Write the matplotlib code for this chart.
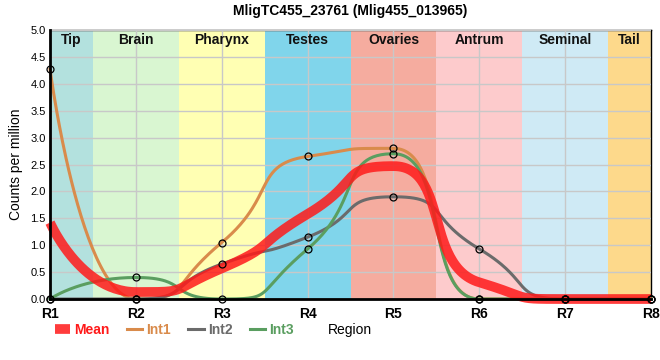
import matplotlib
matplotlib.use("Agg")
import matplotlib.pyplot as plt
from matplotlib.lines import Line2D
import numpy as np

plt.rcParams['font.family'] = ['Liberation Sans', 'DejaVu Sans']

# data
regions = ['R1', 'R2', 'R3', 'R4', 'R5', 'R6', 'R7', 'R8']
int1 = [4.27, 0.0, 1.05, 2.65, 2.80, 0.0, 0.0, 0.0]
int2 = [0.0, 0.0, 0.65, 1.15, 1.90, 0.93, 0.0, 0.0]
int3 = [0.0, 0.40, 0.0, 0.93, 2.70, 0.0, 0.0, 0.0]
mean = [1.42, 0.13, 0.57, 1.58, 2.47, 0.31, 0.0, 0.0]

tissues = ['Tip', 'Brain', 'Pharynx', 'Testes', 'Ovaries', 'Antrum', 'Seminal', 'Tail']
tissue_edges = [1, 1.5, 2.5, 3.5, 4.5, 5.5, 6.5, 7.5, 8]
tissue_colors = ['#b3e1de', '#d9f6d1', '#ffffb3', '#80d5eb', '#f5ac9f',
                 '#fdcbcc', '#cfeaf5', '#fdd98b']


def spline(x, y, n=60, smoothing=0.55):
    # bezier spline with clamped control points (no false extremes)
    x = [float(v) for v in x]
    y = [float(v) for v in y]
    m = len(x)
    lc = [(x[i], y[i]) for i in range(m)]
    rc = [(x[i], y[i]) for i in range(m)]
    d = smoothing + 1
    for i in range(1, m - 1):
        lx = (smoothing * x[i] + x[i - 1]) / d
        ly = (smoothing * y[i] + y[i - 1]) / d
        rx = (smoothing * x[i] + x[i + 1]) / d
        ry = (smoothing * y[i] + y[i + 1]) / d
        corr = (ry - ly) * (rx - x[i]) / (rx - lx) + y[i] - ry
        ly += corr
        ry += corr
        if ly > y[i - 1] and ly > y[i]:
            ly = max(y[i - 1], y[i]); ry = 2 * y[i] - ly
        elif ly < y[i - 1] and ly < y[i]:
            ly = min(y[i - 1], y[i]); ry = 2 * y[i] - ly
        if ry > y[i + 1] and ry > y[i]:
            ry = max(y[i + 1], y[i]); ly = 2 * y[i] - ry
        elif ry < y[i + 1] and ry < y[i]:
            ry = min(y[i + 1], y[i]); ly = 2 * y[i] - ry
        lc[i] = (lx, ly)
        rc[i] = (rx, ry)
    u = np.linspace(0, 1, n)
    b0, b1, b2, b3 = (1 - u) ** 3, 3 * (1 - u) ** 2 * u, 3 * (1 - u) * u ** 2, u ** 3
    xs, ys = [], []
    for i in range(m - 1):
        xs.append(b0 * x[i] + b1 * rc[i][0] + b2 * lc[i + 1][0] + b3 * x[i + 1])
        ys.append(b0 * y[i] + b1 * rc[i][1] + b2 * lc[i + 1][1] + b3 * y[i + 1])
    return np.concatenate(xs), np.concatenate(ys)


xpos = np.arange(1, len(regions) + 1)

fig = plt.figure(figsize=(6.6, 3.6), dpi=100)
ax = fig.add_axes([0.0758, 0.1694, 0.9106, 0.7473])

for i, name in enumerate(tissues):
    ax.axvspan(tissue_edges[i], tissue_edges[i + 1], color=tissue_colors[i], lw=0, zorder=0)
    ax.text((tissue_edges[i] + tissue_edges[i + 1]) / 2, 4.82, name, ha='center', va='center',
            fontsize=10, fontweight='bold', color='#111111', zorder=5)

ax.grid(True, color='#c8c8c8', lw=1, zorder=1)
ax.set_axisbelow(False)

series = [('Int1', int1, '#d98b4b'), ('Int2', int2, '#6b6b6b'), ('Int3', int3, '#5a9e60')]
for name, vals, col in series:
    sx, sy = spline(xpos, vals)
    ax.plot(sx, sy, color=col, lw=2.2, zorder=3, clip_on=False)

mx, my = spline(xpos, mean)
ax.plot(mx, my, color='#ff1a1a', lw=7, alpha=0.85, zorder=4, solid_capstyle='butt', clip_on=False)

for name, vals, col in series:
    ax.plot(xpos, vals, 'o', ms=5, mfc='none', mec='black', mew=0.9, zorder=6, clip_on=False)

ax.set_xlim(1, 8)
ax.set_ylim(0, 5)
ax.set_xticks(xpos)
ax.set_xticklabels(regions, fontsize=10, fontweight='bold')
ax.set_yticks(np.arange(0, 5.01, 0.5))
ax.set_yticklabels([f'{v:.1f}' for v in np.arange(0, 5.01, 0.5)], fontsize=8)
ax.tick_params(axis='x', length=0, pad=6)
ax.tick_params(axis='y', length=0, pad=3)
for side in ['left', 'bottom']:
    ax.spines[side].set_linewidth(2)
    ax.spines[side].set_zorder(7)
for side in ['top', 'right']:
    ax.spines[side].set_linewidth(1)
ax.set_ylabel('Counts per million', fontsize=10)
ax.yaxis.set_label_coords(-0.045, 0.5)

ax.set_title('MligTC455_23761 (Mlig455_013965)', fontsize=10, fontweight='bold', pad=11)

handles = [Line2D([], [], color='#ff1a1a', lw=7, alpha=0.85, solid_capstyle='butt')]
handles += [Line2D([], [], color=c, lw=2.2) for _, _, c in series]
labels = ['Mean'] + [n for n, _, _ in series]
leg = ax.legend(handles, labels, loc='center left', bbox_to_anchor=(0.008, -0.115), ncol=4,
                frameon=False, handlelength=1.1, handletextpad=0.3, columnspacing=1.25,
                prop={'size': 10, 'weight': 'bold'}, borderaxespad=0, borderpad=0)
for txt, h in zip(leg.get_texts(), handles):
    txt.set_color(h.get_color())
fig.text(0.53, 0.083, 'Region', ha='center', va='center', fontsize=10)

plt.savefig('out.png', dpi=100)
